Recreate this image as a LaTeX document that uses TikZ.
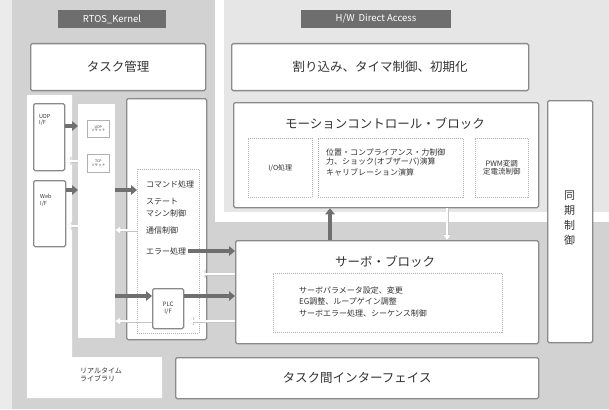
\documentclass[tikz,border=0pt]{standalone}
\usepackage{fontspec}
\setmainfont{Noto Sans CJK JP}
\usetikzlibrary{arrows.meta,calc}
\definecolor{midg}{HTML}{D2D2D2}
\definecolor{hwg}{HTML}{E6E6E6}
\definecolor{marg}{HTML}{EBEBEB}
\definecolor{labc}{HTML}{6E6E6E}
\definecolor{brd}{HTML}{8A8A8A}
\definecolor{arrc}{HTML}{6F6F6F}
\definecolor{txtc}{HTML}{333333}
\definecolor{dashc}{HTML}{B0B0B0}
\newcommand\fsz[1]{\fontsize{#1}{#1}\selectfont}
\begin{document}
\begin{tikzpicture}[x=1pt,y=-1pt,
  every node/.style={text=txtc},
  box/.style={draw=brd, line width=1.3pt, fill=white, rounded corners=1.5pt, inner sep=0pt, anchor=north west},
  plain/.style={fill=white, inner sep=0pt, anchor=north west},
  dbox/.style={draw=dashc, line width=0.5pt, dash pattern=on 1pt off 1pt, inner sep=0pt, anchor=north west},
  sbox/.style={draw=dashc, line width=0.6pt, fill=white, inner sep=0pt, anchor=north west},
  labbox/.style={fill=labc, text=white, inner sep=0pt, minimum height=18, font=\fsz{9.5}},
  title/.style={font=\fsz{12.5}},
  small/.style={font=\fsz{8}, inner sep=0pt, anchor=west},
  tiny/.style={font=\fsz{5.5}, inner sep=0pt, align=left, anchor=north west},
  thk/.style={draw=arrc, line width=3.5pt, -{Triangle[length=6pt,width=9.5pt]}},
  warr/.style={draw=white, line width=2pt, -{Triangle[length=5pt,width=6.5pt]},
     preaction={draw=gray!45, line width=3pt, -{Triangle[length=6pt,width=8pt]}}}
]
\useasboundingbox (0,0) rectangle (609,409);
% regions
\fill[marg] (0,0) rectangle (609,409);
\fill[midg] (12,0) rectangle (609,409);
\fill[white] (215,0) rectangle (609,222);
\fill[hwg] (224,0) rectangle (609,212);
\fill[white] (27,95) -- (72,95) -- (72,357) -- (162,357) -- (162,398) -- (27,398) -- cycle;

% labels
\node[labbox, minimum width=108] (rtos) at (112,19) {RTOS\_Kernel};
\node[labbox, minimum width=150] (hw) at (376,19) {H/W\hspace{4pt}Direct Access};

% top boxes
\node[box, minimum width=175, minimum height=47, title] (task) at (30,43) {タスク管理};
\node[box, minimum width=297, minimum height=47, title] (intr) at (231,43) {割り込み、タイマ制御、初期化};

% motion control block
\node[box, minimum width=305, minimum height=105] (motion) at (233,102) {};
\node[title] (mtitle) at (385,124) {モーションコントロール・ブロック};
\node[dbox, minimum width=64, minimum height=59, font=\fsz{7}] (io) at (248,138) {I/O処理};
\node[dbox, minimum width=145, minimum height=59] (calc) at (318,138) {};
\node[small] (c1) at (326,152) {位置・コンプライアンス・力制御};
\node[small] (c2) at (326,162) {力、ショック(オブザーバ)演算};
\node[small] (c3) at (326,172) {キャリブレーション演算};
\node[dbox, minimum width=53, minimum height=59, font=\fsz{7.5}, align=center] (pwm) at (475,138) {PWM変調\\[1pt]定電流制御};

% sync
\node[box, minimum width=45, minimum height=242] (sync) at (547,100) {};
\node[font=\fontsize{11}{15}\selectfont, align=center] (synct) at (569.5,218) {同\\期\\制\\御};

% servo block
\node[box, minimum width=303, minimum height=103] (servo) at (235,240) {};
\node[title] (stitle) at (385,262) {サーボ・ブロック};
\node[dbox, minimum width=229, minimum height=59] (sin) at (273,273) {};
\node[small] (s1) at (299,290) {サーボパラメータ設定、変更};
\node[small] (s2) at (299,301.5) {EG調整、ループゲイン調整};
\node[small] (s3) at (299,313) {サーボエラー処理、シーケンス制御};

% inter-task interface
\node[box, minimum width=363, minimum height=41, title] (ipc) at (175,357) {タスク間インターフェイス};

% real-time library text
\node[font=\fsz{7}, align=left, inner sep=0pt, anchor=north west] (rtl) at (80,368) {リアルタイム\\[1pt]ライブラリ};

% left column
\node[box, minimum width=31, minimum height=67] (udp) at (33,103) {};
\node[tiny] (udpt) at (39,114) {UDP\\[1pt]I/F};
\node[box, minimum width=32, minimum height=66] (web) at (33,180) {};
\node[tiny] (webt) at (40,194) {Web\\[1pt]I/F};

% middle column
\node[plain, minimum width=37, minimum height=234] (mid) at (78,104) {};
\node[sbox, minimum width=22, minimum height=17, font=\fsz{3.5}, align=center] (sb1) at (87,120) {UDP\\ソケット};
\node[sbox, minimum width=22, minimum height=18, font=\fsz{3.5}, align=center] (sb2) at (87,154) {TCP\\ソケット};

% big box
\node[box, minimum width=80, minimum height=241] (big) at (126,98) {};
\node[dbox, minimum width=62, minimum height=164] (cmd) at (137,169) {};
\node[small] (t1) at (146,184) {コマンド処理};
\node[small] (t2) at (146,202) {ステート};
\node[small] (t3) at (146,213) {マシン制御};
\node[small] (t4) at (146,230) {通信制御};
\node[small] (t5) at (146,251) {エラー処理};
\node[box, minimum width=31, minimum height=40, font=\fsz{6}, align=center] (plc) at (152,288) {PLC\\[1pt]I/F};

% row coordinates
\coordinate (r126) at (0,126);
\coordinate (r161) at (0,161);
\coordinate (r190) at (0,190);
\coordinate (r226) at (0,226);
\coordinate (r274) at (0,274);
\coordinate (r296) at (0,296);
\coordinate (r321) at (0,321);
\coordinate (c330) at (330,0);
\coordinate (c447) at (447,0);
\coordinate (plcr) at (188,321);

% thick arrows
\draw[thk] (udp.east |- r126) -- (mid.west |- r126);
\draw[thk] (web.east |- r190) -- (mid.west |- r190);
\draw[thk] (mid.east |- r190) -- (cmd.west |- r190);
\draw[thk] ([xshift=2pt]t5.east) -- (servo.west |- t5.east);
\draw[thk] (mid.east |- r296) -- (plc.west |- r296);
\draw[thk] (plc.east |- r296) -- (servo.west |- r296);
\draw[thk] (servo.north -| c330) -- (motion.south -| c330);

% white arrows
\draw[warr] (mid.west |- r161) -- (udp.east |- r161);
\draw[warr] (mid.west |- r226) -- (web.east |- r226);
\draw[warr] (cmd.west |- t4.west) -- (mid.east |- t4.west);
\draw[warr] (servo.west |- r274) -- (cmd.east |- r274);
\draw[warr] (servo.west |- r321) -- (plcr);
\draw[warr] (plc.west |- r321) -- (mid.east |- r321);
\draw[warr] (motion.south -| c447) -- (servo.north -| c447);
\end{tikzpicture}
\end{document}
